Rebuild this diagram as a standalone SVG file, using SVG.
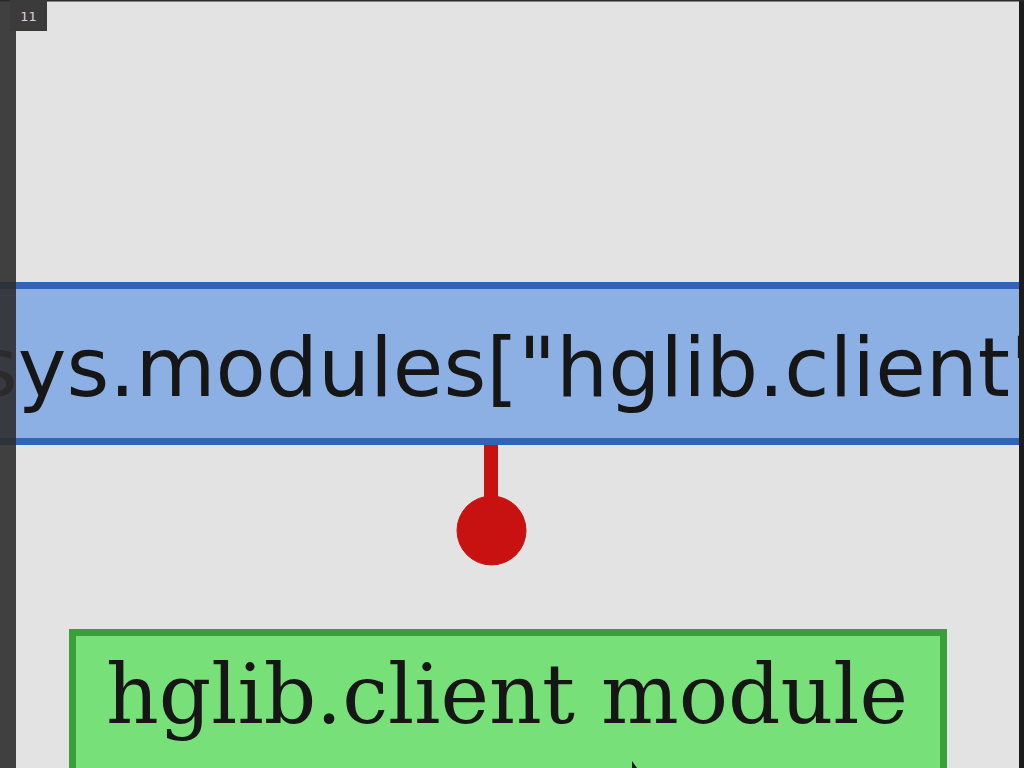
<svg xmlns="http://www.w3.org/2000/svg" width="1024" height="768" viewBox="0 0 1024 768">
  <style>
    .sans { font-family: "DejaVu Sans", "Liberation Sans", sans-serif; fill: #161616; }
    .serif { font-family: "DejaVu Serif", "Liberation Serif", serif; fill: #161616; }
    .conn { stroke: #c81212; fill: #c81212; }
  </style>
  <rect x="0" y="0" width="1024" height="768" fill="#e3e3e3"/>
  <g id="node-sys-modules">
    <rect x="-10" y="285.5" width="1040" height="156" fill="#8cb0e4" stroke="#2f64b8" stroke-width="7"/>
    <text class="sans" x="-25" y="396" font-size="82.2">sys.modules["hglib.client"]</text>
  </g>
  <g id="connectors">
    <line class="conn" x1="491" y1="445" x2="491" y2="505" stroke-width="14"/>
    <circle class="conn" cx="491.5" cy="530.5" r="34.5" stroke="none"/>
  </g>
  <g id="node-hglib-client">
    <rect x="72.5" y="632.5" width="871" height="160" fill="#78e078" stroke="#3a9e3a" stroke-width="7"/>
    <text class="serif" x="507" y="723" font-size="82" text-anchor="middle">hglib.client module</text>
  </g>
  <path d="M632 761 L632 768 L637 768 Z" fill="#1a1a1a"/>
  <rect x="0" y="0" width="16" height="768" fill="#2e2e2e" opacity="0.9"/>
  <rect x="1019" y="0" width="5" height="768" fill="#1c1c1c"/>
  <rect x="0" y="0" width="1024" height="1.5" fill="#2a2a2a"/>
  <g id="badge">
    <rect x="10" y="0" width="37" height="31" fill="#3b3b3b"/>
    <text x="28.5" y="21" font-family="DejaVu Sans, sans-serif" font-size="13" fill="#d4d4d4" text-anchor="middle">11</text>
  </g>
</svg>
